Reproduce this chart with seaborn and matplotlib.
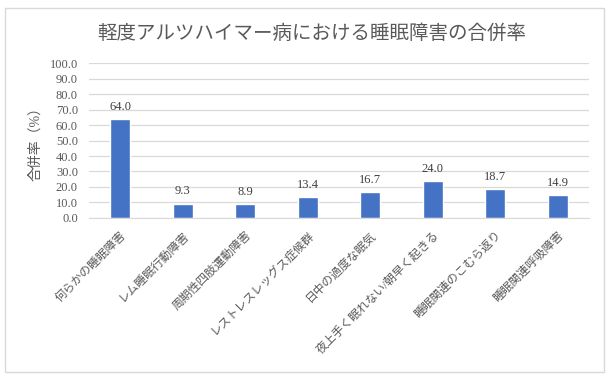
import matplotlib
matplotlib.use("Agg")
import matplotlib.pyplot as plt
import seaborn as sns
import pandas as pd
from matplotlib.patches import Rectangle

sns.set_style("white")
plt.rcParams['font.family'] = ['Liberation Serif', 'Noto Sans CJK JP', 'DejaVu Sans']

# data
categories = ["何らかの睡眠障害", "レム睡眠行動障害", "周期性四肢運動障害", "レストレスレッグス症候群",
              "日中の過度な眠気", "夜上手く眠れない/朝早く起きる", "睡眠関連のこむら返り", "睡眠関連呼吸障害"]
rates = [64.0, 9.3, 8.9, 13.4, 16.7, 24.0, 18.7, 14.9]
yticks = [0, 10, 20, 30, 40, 50, 60, 70, 80, 90, 100]

df = pd.DataFrame({"cat": categories, "rate": rates})

fig = plt.figure(figsize=(6.11, 3.78), dpi=100)
ax = fig.add_axes([0.1457, 0.4233, 0.8183, 0.41])

sns.barplot(data=df, x="cat", y="rate", color="#4472C4", width=0.32, saturation=1, ax=ax)

txt = "#595959"
for i, v in enumerate(rates):
    ax.text(i, v + 4, f"{v:.1f}", ha="center", va="bottom", fontsize=9, color="#404040")

ax.set_ylim(0, 100)
ax.set_yticks(yticks)
ax.set_yticklabels([f"{t:.1f}" for t in yticks], fontsize=9, color=txt)
ax.set_xticks(range(len(categories)))
ax.set_xticklabels(categories, rotation=45, ha="right", rotation_mode="anchor",
                   fontsize=8.5, color=txt)
ax.tick_params(axis="both", length=0)
ax.tick_params(axis="y", pad=8)
ax.tick_params(axis="x", pad=8)
ax.set_xlabel("")
ax.set_ylabel("合併率（%）", fontsize=10, color=txt)
ax.yaxis.set_label_coords(-0.093, 0.5)
ax.yaxis.grid(True, color="#D9D9D9", linewidth=0.9)
ax.set_axisbelow(True)
for s in ["top", "right", "left"]:
    ax.spines[s].set_visible(False)
ax.spines["bottom"].set_color("#D9D9D9")

fig.text(0.51, 0.912, "軽度アルツハイマー病における睡眠障害の合併率", ha="center", va="center",
         fontsize=14, color=txt)

fig.patches.append(Rectangle((5 / 611, 1 - 372 / 378), 599 / 611, 364 / 378,
                             transform=fig.transFigure, fill=False,
                             edgecolor="#D9D9D9", linewidth=1))

fig.savefig("out.png", dpi=100)
